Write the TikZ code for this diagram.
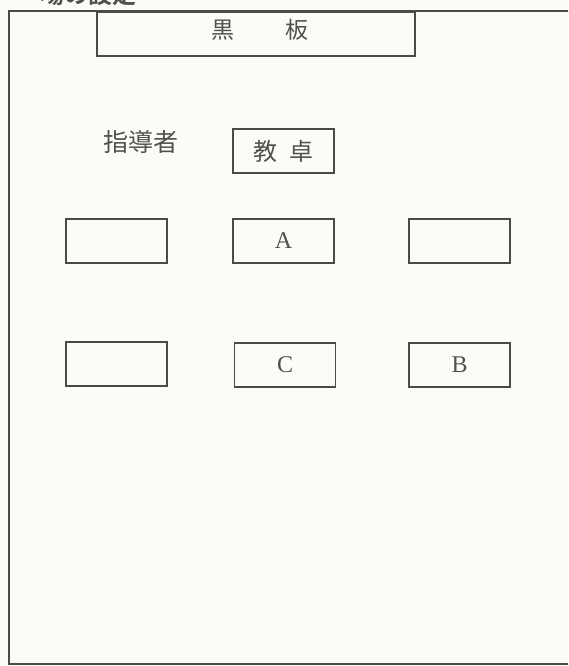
\documentclass[tikz,border=0pt]{standalone}
\usepackage{fontspec}
\newfontfamily\jp{Noto Sans CJK JP}
\newfontfamily\jpb{Noto Sans CJK JP Bold}
\newfontfamily\lat{Liberation Serif}
\definecolor{paper}{HTML}{FCFCF6}
\definecolor{ink}{HTML}{4A4A48}
\definecolor{txt}{HTML}{505050}
\begin{document}
\begin{tikzpicture}[x=1pt,y=-1pt,
  seat/.style={draw=ink,line width=1.1pt,minimum width=101pt,minimum height=44pt,inner sep=0pt,font=\lat\fontsize{24}{24}\selectfont,text=txt},
  frame/.style={draw=ink,line width=1.2pt}]
\useasboundingbox (0,0) rectangle (568,666);
\clip (0,0) rectangle (568,666);
\fill[paper] (0,0) rectangle (568,666);
% heading (cut off at top)
\node[anchor=west,inner sep=0pt,text=txt,font=\jpb\fontsize{24}{24}\selectfont] (head) at (-8,-6) {）\hspace{24pt}場の設定};
% outer frame
\draw[frame] (570,11) -- (9,11) -- (9,664) -- (570,664);
% blackboard
\node[seat,minimum width=318pt,minimum height=44pt] (board) at (256,34) {};
\node[inner sep=0pt,text=txt,font=\jp\fontsize{23}{23}\selectfont] (boardtxt) at (260,30) {黒\hspace{51pt}板};
% teacher
\node[inner sep=0pt,text=txt,font=\jp\fontsize{25}{25}\selectfont] (teacher) at (141,142) {指導者};
\node[seat,font=\jp\fontsize{24}{24}\selectfont] (desk) at (283.5,151) {教\hspace{12pt}卓};
% seats row 1
\node[seat] (s11) at (116.5,241) {};
\node[seat] (sA) at (283.5,241) {A};
\node[seat] (s13) at (459.5,241) {};
% seats row 2
\node[seat] (s21) at (116.5,364) {};
\node[seat] (sC) at (285,365) {C};
\node[seat] (sB) at (459.5,365) {B};
\end{tikzpicture}
\end{document}
